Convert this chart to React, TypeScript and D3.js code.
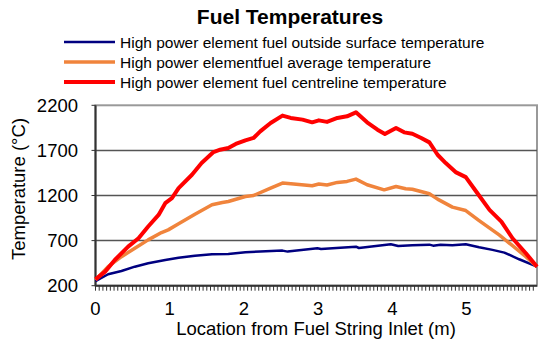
import * as d3 from "d3";

// centreline (red)
const redX = [0, 0.13, 0.26, 0.44, 0.58, 0.71, 0.85, 0.94, 1.03, 1.12, 1.3, 1.43, 1.59, 1.68, 1.79, 1.89, 2.02, 2.13, 2.22, 2.36, 2.52, 2.63, 2.79, 2.92, 3.01, 3.12, 3.26, 3.39, 3.51, 3.66, 3.8, 3.9, 4.05, 4.16, 4.27, 4.39, 4.5, 4.61, 4.72, 4.86, 4.99, 5.13, 5.31, 5.47, 5.62, 5.8, 5.95];
const redY = [270, 356, 485, 633, 726, 856, 985, 1115, 1171, 1282, 1430, 1560, 1682, 1708, 1727, 1771, 1811, 1838, 1911, 2004, 2086, 2060, 2041, 2011, 2033, 2016, 2060, 2078, 2122, 2011, 1930, 1882, 1949, 1900, 1885, 1838, 1789, 1652, 1560, 1456, 1404, 1244, 1041, 911, 726, 560, 411];

// fuel average (orange)
const orangeX = [0, 0.17, 0.35, 0.53, 0.71, 0.89, 0.98, 1.12, 1.34, 1.57, 1.71, 1.79, 2.02, 2.13, 2.36, 2.52, 2.67, 2.92, 3.01, 3.12, 3.26, 3.39, 3.51, 3.66, 3.89, 4.05, 4.18, 4.27, 4.5, 4.61, 4.81, 4.99, 5.17, 5.44, 5.62, 5.8, 5.95];
const orangeY = [265, 411, 522, 615, 708, 789, 819, 886, 993, 1097, 1122, 1133, 1189, 1200, 1282, 1338, 1327, 1308, 1327, 1316, 1345, 1356, 1382, 1319, 1263, 1300, 1274, 1270, 1219, 1160, 1071, 1033, 922, 763, 644, 522, 411];

// outside surface (blue)
const blueX = [0, 0.17, 0.35, 0.53, 0.71, 0.94, 1.12, 1.34, 1.57, 1.79, 2.02, 2.22, 2.52, 2.59, 2.99, 3.04, 3.3, 3.51, 3.55, 3.98, 4.08, 4.27, 4.5, 4.55, 4.65, 4.81, 4.99, 5.17, 5.35, 5.51, 5.71, 5.95];
const blueY = [250, 327, 363, 411, 449, 486, 511, 533, 549, 552, 571, 578, 589, 578, 615, 607, 622, 633, 618, 660, 641, 648, 655, 644, 655, 648, 660, 626, 597, 567, 493, 411];

const seriesNames = [
  "High power element fuel outside surface temperature",
  "High power elementfuel average temperature",
  "High power element fuel centreline temperature",
];
const yTicks = [200, 700, 1200, 1700, 2200];
const xTicks = [0, 1, 2, 3, 4, 5];

const W = 539;
const H = 343;
const left = 95.5;
const right = 537;
const top = 105.3;
const bottom = 285.7;

export default function App() {
  const x = d3.scaleLinear().domain([0, 5.95]).range([left, right]);
  const y = d3.scaleLinear().domain([200, 2200]).range([bottom, top]);

  const mk = (xs: number[], ys: number[]) =>
    d3
      .line<number>()
      .x((_, i) => x(xs[i]))
      .y((d) => y(d))(ys) || "";

  const series = [
    { name: seriesNames[0], color: "#000080", width: 2.5, d: mk(blueX, blueY) },
    { name: seriesNames[1], color: "#F0843C", width: 3.5, d: mk(orangeX, orangeY) },
    { name: seriesNames[2], color: "#FF0000", width: 4, d: mk(redX, redY) },
  ];

  const minor = d3.range(0, 119).map((i) => i * 0.05);

  return (
    <svg
      width={W}
      height={H}
      style={{ position: "absolute", left: 0, top: 0, fontFamily: "'Liberation Sans', Arial, sans-serif" }}
    >
      <rect width={W} height={H} fill="#fff" />
      <text x={290} y={24} textAnchor="middle" fontSize={21} fontWeight="bold">
        Fuel Temperatures
      </text>

      {/* legend */}
      {series.map((s, i) => (
        <g key={s.name} transform={`translate(0,${42 + i * 20})`}>
          <line x1={64} x2={115} y1={0} y2={0} stroke={s.color} strokeWidth={s.width} />
          <text x={120} y={5.5} fontSize={15.5}>
            {s.name}
          </text>
        </g>
      ))}

      {/* frame + grid */}
      <rect x={left} y={top} width={right - left} height={bottom - top} fill="none" stroke="#999" strokeWidth={2} />
      {yTicks.slice(1, -1).map((t) => (
        <line key={t} x1={left} x2={right} y1={y(t)} y2={y(t)} stroke="#555" strokeWidth={1.5} />
      ))}
      <line x1={left} x2={left} y1={top} y2={bottom} stroke="#333" strokeWidth={2} />
      <line x1={left} x2={right} y1={bottom} y2={bottom} stroke="#333" strokeWidth={2} />

      {/* y ticks */}
      {yTicks.map((t) => (
        <g key={t}>
          <line x1={left - 4} x2={left} y1={y(t)} y2={y(t)} stroke="#333" />
          <text x={78} y={y(t) + 6.5} textAnchor="end" fontSize={18.5}>
            {t}
          </text>
        </g>
      ))}

      {/* x ticks */}
      {minor.map((t) => (
        <line key={t} x1={x(t)} x2={x(t)} y1={bottom} y2={bottom + 5} stroke="#333" strokeWidth={1} />
      ))}
      {xTicks.map((t) => (
        <text key={t} x={x(t)} y={315} textAnchor="middle" fontSize={18.5}>
          {t}
        </text>
      ))}

      <text x={316} y={335} textAnchor="middle" fontSize={18.5}>
        Location from Fuel String Inlet (m)
      </text>
      <text transform="translate(25,189) rotate(-90)" textAnchor="middle" fontSize={18.5}>
        Temperature (°C)
      </text>

      {/* series */}
      {series.map((s) => (
        <path key={s.name} d={s.d} fill="none" stroke={s.color} strokeWidth={s.width} strokeLinejoin="round" />
      ))}
    </svg>
  );
}
